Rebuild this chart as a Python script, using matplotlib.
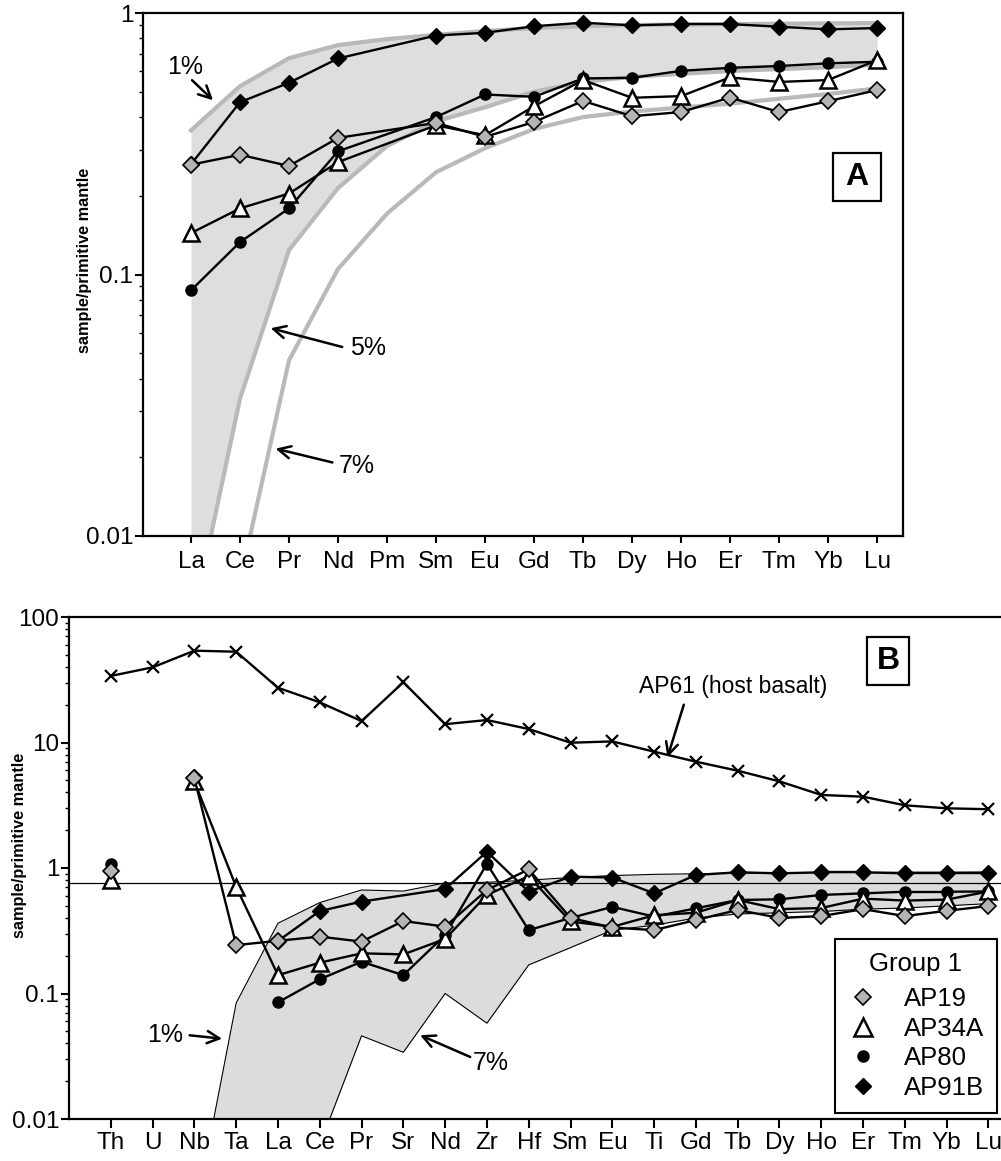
import numpy as np
import matplotlib
matplotlib.use("Agg")
from matplotlib import pyplot as plt
from matplotlib.lines import Line2D
from matplotlib.patches import Rectangle
from matplotlib.ticker import NullFormatter

plt.rcParams['font.family'] = ['Liberation Sans', 'DejaVu Sans']

nan = np.nan

# panel A: REE only
ree = ["La", "Ce", "Pr", "Nd", "Pm", "Sm", "Eu", "Gd", "Tb", "Dy", "Ho", "Er", "Tm", "Yb", "Lu"]
a_ap19 = [0.263, 0.287, 0.26, 0.333, nan, 0.38, 0.336, 0.383, 0.461, 0.403, 0.418, 0.475, 0.418, 0.46, 0.507]
a_ap34a = [0.144, 0.179, 0.204, 0.269, nan, 0.372, 0.341, 0.44, 0.554, 0.474, 0.481, 0.567, 0.545, 0.554, 0.66]
a_ap80 = [0.087, 0.133, 0.179, 0.296, nan, 0.40, 0.488, 0.478, 0.562, 0.565, 0.601, 0.617, 0.627, 0.642, 0.651]
a_ap91b = [0.264, 0.456, 0.541, 0.67, nan, 0.82, 0.84, 0.89, 0.918, 0.897, 0.907, 0.907, 0.886, 0.866, 0.876]
melt1_a = [0.356, 0.525, 0.672, 0.754, 0.795, 0.825, 0.853, 0.876, 0.89, 0.9, 0.903, 0.907, 0.91, 0.913, 0.915]
melt5_a = [0.0044, 0.0335, 0.124, 0.214, 0.31, 0.385, 0.436, 0.50, 0.545, 0.57, 0.585, 0.60, 0.61, 0.62, 0.635]
melt7_a = [0.001, 0.0067, 0.047, 0.105, 0.171, 0.246, 0.304, 0.36, 0.40, 0.42, 0.435, 0.45, 0.47, 0.49, 0.515]

# panel B: extended spider diagram
elems = ["Th", "U", "Nb", "Ta", "La", "Ce", "Pr", "Sr", "Nd", "Zr", "Hf", "Sm", "Eu", "Ti",
         "Gd", "Tb", "Dy", "Ho", "Er", "Tm", "Yb", "Lu"]
b_ap19 = [0.95, nan, 5.2, 0.243, 0.263, 0.284, 0.259, 0.378, 0.341, 0.668, 0.976, 0.40, 0.335, 0.32,
          0.385, 0.463, 0.40, 0.414, 0.47, 0.414, 0.456, 0.498]
b_ap34a = [0.80, nan, 4.9, 0.707, 0.14, 0.176, 0.209, 0.205, 0.272, 0.61, 0.86, 0.375, 0.34, 0.42,
           0.44, 0.556, 0.47, 0.48, 0.57, 0.55, 0.56, 0.65]
b_ap80 = [1.07, nan, nan, nan, 0.085, 0.13, 0.179, 0.14, 0.292, 1.08, 0.32, 0.40, 0.49, 0.41,
          0.477, 0.556, 0.563, 0.61, 0.628, 0.647, 0.647, 0.65]
b_ap91b = [nan, nan, 5.3, nan, 0.262, 0.454, 0.54, nan, 0.68, 1.35, 0.647, 0.853, 0.84, 0.628,
           0.88, 0.924, 0.907, 0.924, 0.924, 0.907, 0.907, 0.907]
b_ap61 = [33.9, 39.7, 53.9, 52.9, 27.3, 20.9, 14.8, 30.2, 14.0, 15.1, 12.8, 9.96, 10.2, 8.45,
          7.03, 5.96, 4.9, 3.82, 3.7, 3.16, 2.99, 2.94]
melt1_b = [nan, nan, 0.0016, 0.084, 0.363, 0.53, 0.668, 0.655, 0.76, 0.77, 0.80, 0.84, 0.87, 0.89,
           0.90, 0.91, 0.915, 0.92, 0.92, 0.925, 0.925, 0.93]
melt7_b = [nan, nan, 0.0001, 0.0001, 0.0001, 0.0062, 0.046, 0.034, 0.10, 0.058, 0.169, 0.232, 0.32, 0.35,
           0.40, 0.43, 0.44, 0.45, 0.47, 0.48, 0.50, 0.52]
ref_line_b = 0.76

samples = ["AP19", "AP34A", "AP80", "AP91B"]
styles = {
    "AP19": dict(marker="D", mfc="#b4b4b4", mec="black", ms=8, mew=1.2),
    "AP34A": dict(marker="^", mfc="white", mec="black", ms=12, mew=1.8),
    "AP80": dict(marker="o", mfc="black", mec="black", ms=8, mew=1),
    "AP91B": dict(marker="D", mfc="black", mec="black", ms=8, mew=1),
}
zorders = {"AP19": 6, "AP34A": 5, "AP80": 4, "AP91B": 3}


def plot_series(ax, x, y, style, z, joinable):
    x = np.asarray(x, float)
    y = np.asarray(y, float)
    ok = np.where(~np.isnan(y))[0]
    # line segments between consecutive measured elements
    for i, j in zip(ok[:-1], ok[1:]):
        if joinable(i, j):
            ax.plot([x[i], x[j]], [y[i], y[j]], color="black", lw=1.7, zorder=z)
    ax.plot(x[ok], y[ok], ls="none", zorder=z + 0.5, **style)


def style_axis(ax, xlen, xpad):
    for s in ax.spines.values():
        s.set_linewidth(1.6)
    ax.tick_params(axis="both", which="major", direction="out", width=1.5, labelsize=17.5)
    ax.tick_params(axis="y", which="major", length=6, pad=1)
    ax.tick_params(axis="y", which="minor", length=3, width=1)
    ax.tick_params(axis="x", which="major", length=xlen, pad=xpad)
    ax.yaxis.set_minor_formatter(NullFormatter())


fig = plt.figure(figsize=(10.01, 11.61), dpi=100)

# ---------------- panel A ----------------
axA = fig.add_axes([143 / 1001, 1 - 536 / 1161, 760 / 1001, 523 / 1161])
xa = np.arange(len(ree))
axA.fill_between(xa, melt5_a, melt1_a, color="#dedede", lw=0, zorder=1)
for m in (melt1_a, melt5_a, melt7_a):
    axA.plot(xa, m, color="#b9b9b9", lw=3, zorder=2)
for s, y in zip(samples, [a_ap19, a_ap34a, a_ap80, a_ap91b]):
    plot_series(axA, xa, y, styles[s], zorders[s], lambda i, j: True)
axA.set_yscale("log")
axA.set_ylim(0.01, 1)
axA.set_xlim(-0.98, 14.53)
axA.set_xticks(xa)
axA.set_xticklabels(ree)
axA.set_yticks([0.01, 0.1, 1])
axA.set_yticklabels(["0.01", "0.1", "1"])
style_axis(axA, 5, 6)

arrow_kw = dict(arrowstyle="->", lw=1.8, color="black", mutation_scale=22)
axA.annotate("", xy=(0.49, 0.456), xytext=(-0.02, 0.563), arrowprops=arrow_kw, zorder=8)
axA.text(-0.12, 0.62, "1%", fontsize=18, ha="center", va="center")
axA.annotate("", xy=(1.57, 0.0627), xytext=(3.14, 0.0525), arrowprops=arrow_kw, zorder=8)
axA.text(3.62, 0.0525, "5%", fontsize=18, ha="center", va="center")
axA.annotate("", xy=(1.67, 0.0217), xytext=(2.94, 0.019), arrowprops=arrow_kw, zorder=8)
axA.text(3.38, 0.0185, "7%", fontsize=18, ha="center", va="center")

axA.add_patch(Rectangle((0.9079, 0.6405), 0.0632, 0.0918, transform=axA.transAxes,
                        fill=False, lw=1.6, ec="black", zorder=9))
axA.text(0.9079 + 0.0316, 0.6405 + 0.0459, "A", transform=axA.transAxes, fontsize=23,
         fontweight="bold", ha="center", va="center", zorder=9)
fig.text(85 / 1001, 1 - 260 / 1161, "sample/primitive mantle", rotation=90, fontsize=11.7,
         fontweight="bold", ha="center", va="center")

# ---------------- panel B ----------------
axB = fig.add_axes([69 / 1001, 1 - 1119 / 1161, 932 / 1001, 502 / 1161])
xb = np.arange(len(elems))
m1 = np.asarray(melt1_b, float)
m7 = np.asarray(melt7_b, float)
ok = ~np.isnan(m1)
axB.fill_between(xb[ok], m7[ok], m1[ok], color="#dcdcdc", lw=0, zorder=1)
axB.plot(xb, m1, color="black", lw=0.8, zorder=2)
axB.plot(xb, m7, color="black", lw=0.8, zorder=2)
axB.axhline(ref_line_b, color="black", lw=0.9, zorder=2)

axB.plot(xb, b_ap61, color="black", lw=1.7, marker="x", ms=9, mew=1.6, zorder=3)

# elements before La are joined only to their direct neighbour
joinB = lambda i, j: (j == i + 1) or (i >= 4)
for s, y in zip(samples, [b_ap19, b_ap34a, b_ap80, b_ap91b]):
    st = dict(styles[s])
    if s == "AP34A":
        st["ms"] = 11
    plot_series(axB, xb, y, st, zorders[s], joinB)

axB.set_yscale("log")
axB.set_ylim(0.01, 100)
axB.set_xlim(-1, 21.3)
axB.set_xticks(xb)
axB.set_xticklabels(elems)
axB.set_yticks([0.01, 0.1, 1, 10, 100])
axB.set_yticklabels(["0.01", "0.1", "1", "10", "100"])
axB.spines["right"].set_visible(False)
style_axis(axB, 6.5, 3)

axB.annotate("", xy=(13.3, 7.26), xytext=(13.73, 21.0), arrowprops=arrow_kw, zorder=8)
axB.text(14.88, 27.7, "AP61 (host basalt)", fontsize=16.5, ha="center", va="center")
axB.annotate("", xy=(2.73, 0.0434), xytext=(1.82, 0.0467), arrowprops=arrow_kw, zorder=8)
axB.text(1.30, 0.0467, "1%", fontsize=18, ha="center", va="center")
axB.annotate("", xy=(7.34, 0.0475), xytext=(8.66, 0.0306), arrowprops=arrow_kw, zorder=8)
axB.text(9.1, 0.0279, "7%", fontsize=18, ha="center", va="center")

axB.add_patch(Rectangle((0.8562, 0.8645), 0.0451, 0.0956, transform=axB.transAxes,
                        fill=False, lw=1.6, ec="black", zorder=9))
axB.text(0.8562 + 0.0225, 0.8645 + 0.0478, "B", transform=axB.transAxes, fontsize=23,
         fontweight="bold", ha="center", va="center", zorder=9)
fig.text(20 / 1001, 1 - 845 / 1161, "sample/primitive mantle", rotation=90, fontsize=11.7,
         fontweight="bold", ha="center", va="center")

handles = []
for s in samples:
    st = dict(styles[s])
    if s == "AP34A":
        st["ms"] = 13
    handles.append(Line2D([], [], ls="none", **st))
leg = axB.legend(handles, samples, title="Group 1", loc="lower right",
                 bbox_to_anchor=(0.9957, 0.012), borderaxespad=0, fontsize=18.5,
                 title_fontsize=18.5, fancybox=False, framealpha=1, edgecolor="black",
                 handlelength=1.2, handletextpad=1.0, labelspacing=0.22, borderpad=0.5)
leg.get_frame().set_linewidth(1.5)
leg._legend_box.sep = 8
leg.set_zorder(10)

fig.savefig("out.png", dpi=100)
